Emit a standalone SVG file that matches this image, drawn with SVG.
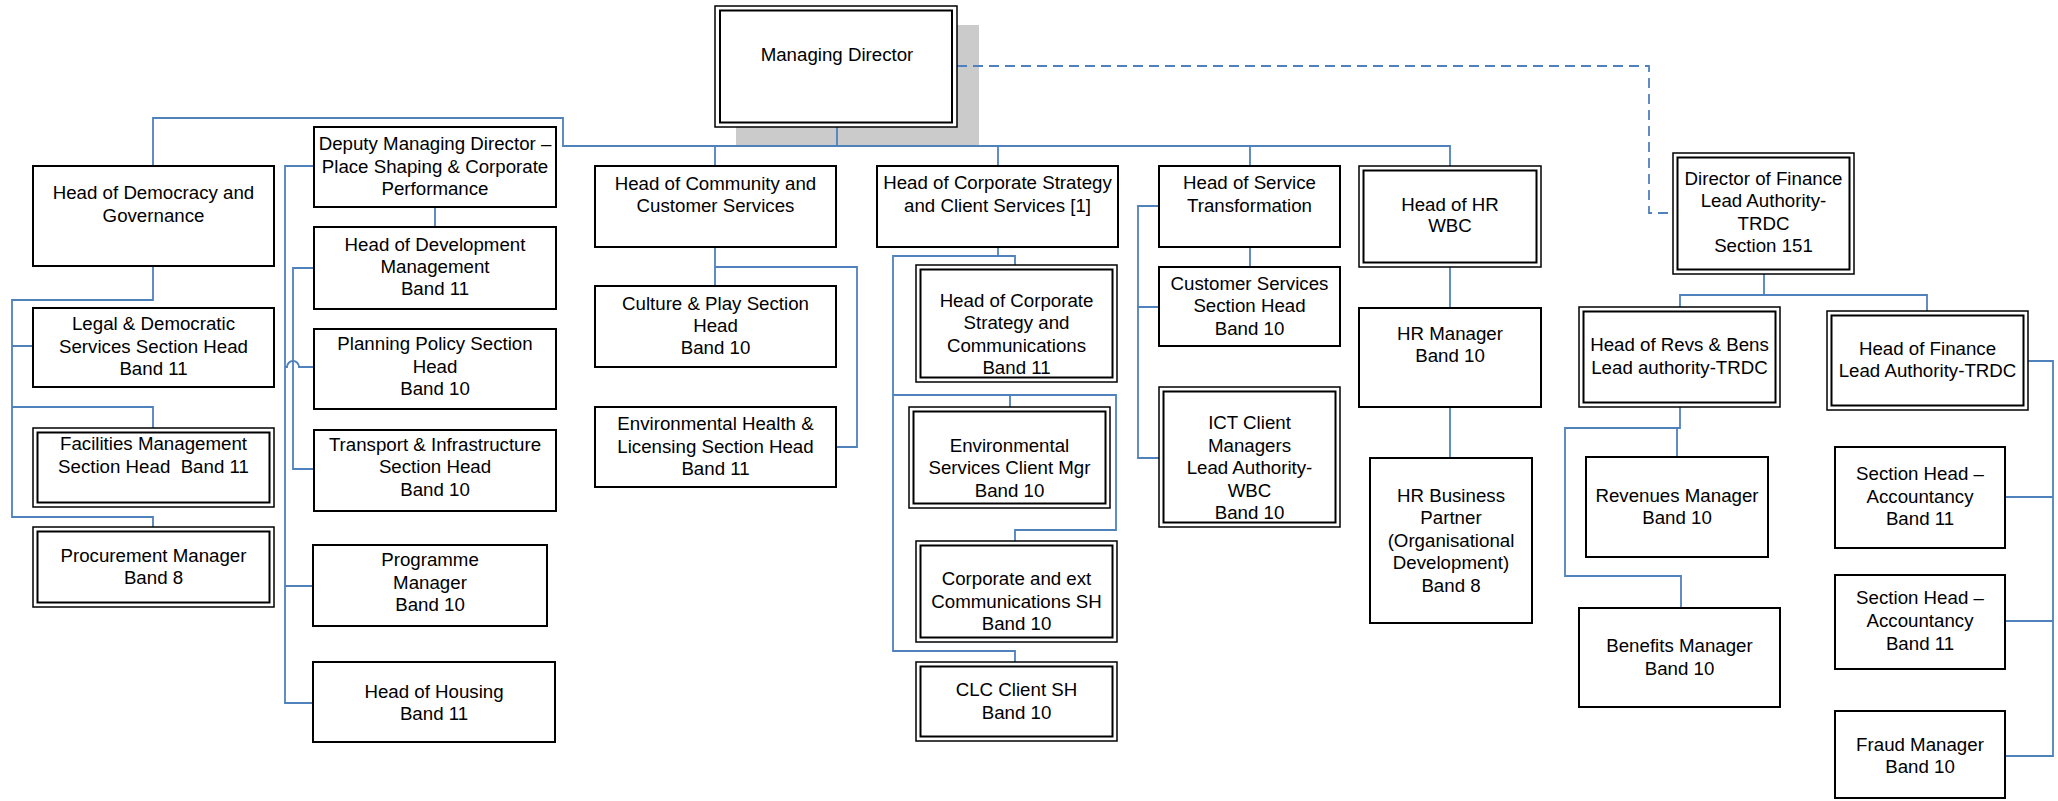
<svg xmlns="http://www.w3.org/2000/svg" width="2058" height="801" viewBox="0 0 2058 801">
<style>
.box{fill:#fff;stroke:#000;stroke-width:2}
.bo{fill:#fff;stroke:#000;stroke-width:1.5}
.bi{fill:none;stroke:#000;stroke-width:2}
.t{font-family:"Liberation Sans",Arial,sans-serif;font-size:18.7px;text-anchor:middle;fill:#000}
.c{fill:none;stroke:#4f81bd;stroke-width:1.8}
.d{fill:none;stroke:#4f81bd;stroke-width:1.8;stroke-dasharray:10 6}
</style>
<rect width="2058" height="801" fill="#fff"/>
<rect id="md-shadow" x="736" y="25" width="243" height="121" fill="#cbcbcb"/>
<g id="connectors">
<path class="c" d="M153,166V118H563V146H1450V166"/>
<path class="c" d="M837,127V146M715,146V166M998,146V166M1250,146V166"/>
<path class="c" d="M153,266V300H12V517H153V527M12,346H33M12,407H153V428"/>
<path class="c" d="M314,166H285V703H313M285,586H313M285,367H287A6,6 0 0 1 299,367H314"/>
<path class="c" d="M435,207V227M314,268H293V469H314"/>
<path class="c" d="M715,247V286M715,267H857V447H836"/>
<path class="c" d="M998,247V256H1015V265M998,256H893V651H1015V662M893,395H1116V530H1015V541M1010,395V407"/>
<path class="c" d="M1250,247V267M1159,206H1138V458H1159M1138,307H1159"/>
<path class="c" d="M1450,267V308M1450,407V458"/>
<path class="d" d="M957,66H1649V213H1673"/>
<path class="c" d="M1764,274V295M1680,307V295H1927V311M1680,407V428H1565V576H1681V608M1677,428V457"/>
<path class="c" d="M2028,361H2053V756H2005M2053,497H2005M2053,621H2005"/>
</g>
<g id="managing-director">
<rect class="bo" x="715" y="6" width="242" height="121"/>
<rect class="bi" x="720" y="10.5" width="232" height="112"/>
<text class="t" x="837"><tspan x="837" y="61">Managing Director</tspan></text>
</g>
<g id="head-democracy">
<rect class="box" x="33" y="166" width="241" height="100"/>
<text class="t"><tspan x="153.5" y="199">Head of Democracy and</tspan><tspan x="153.5" y="221.5">Governance</tspan></text>
</g>
<g id="legal">
<rect class="box" x="33" y="308" width="241" height="79"/>
<text class="t"><tspan x="153.5" y="330">Legal &amp; Democratic</tspan><tspan x="153.5" y="353">Services Section Head</tspan><tspan x="153.5" y="375">Band 11</tspan></text>
</g>
<g id="facilities">
<rect class="bo" x="33" y="428" width="241" height="79"/>
<rect class="bi" x="37.5" y="432.5" width="232" height="70"/>
<text class="t"><tspan x="153.5" y="450">Facilities Management</tspan><tspan x="153.5" y="472.5">Section Head&#160; Band 11</tspan></text>
</g>
<g id="procurement">
<rect class="bo" x="33" y="527" width="241" height="80"/>
<rect class="bi" x="37.5" y="531.5" width="232" height="71"/>
<text class="t"><tspan x="153.5" y="561.5">Procurement Manager</tspan><tspan x="153.5" y="584">Band 8</tspan></text>
</g>
<g id="deputy-md">
<rect class="box" x="314" y="127" width="242" height="80"/>
<text class="t"><tspan x="435" y="150">Deputy Managing Director –</tspan><tspan x="435" y="172.5">Place Shaping &amp; Corporate</tspan><tspan x="435" y="195">Performance</tspan></text>
</g>
<g id="head-dev">
<rect class="box" x="314" y="227" width="242" height="82"/>
<text class="t"><tspan x="435" y="250.5">Head of Development</tspan><tspan x="435" y="273">Management</tspan><tspan x="435" y="295">Band 11</tspan></text>
</g>
<g id="planning-policy">
<rect class="box" x="314" y="329" width="242" height="80"/>
<text class="t"><tspan x="435" y="350">Planning Policy Section</tspan><tspan x="435" y="373">Head</tspan><tspan x="435" y="395">Band 10</tspan></text>
</g>
<g id="transport">
<rect class="box" x="314" y="430" width="242" height="81"/>
<text class="t"><tspan x="435" y="450.5">Transport &amp; Infrastructure</tspan><tspan x="435" y="472.5">Section Head</tspan><tspan x="435" y="495.5">Band 10</tspan></text>
</g>
<g id="programme-manager">
<rect class="box" x="313" y="545" width="234" height="81"/>
<text class="t"><tspan x="430" y="566">Programme</tspan><tspan x="430" y="588.5">Manager</tspan><tspan x="430" y="611">Band 10</tspan></text>
</g>
<g id="head-housing">
<rect class="box" x="313" y="662" width="242" height="80"/>
<text class="t"><tspan x="434" y="698">Head of Housing</tspan><tspan x="434" y="720">Band 11</tspan></text>
</g>
<g id="head-community">
<rect class="box" x="595" y="166" width="241" height="81"/>
<text class="t"><tspan x="715.5" y="190">Head of Community and</tspan><tspan x="715.5" y="212">Customer Services</tspan></text>
</g>
<g id="culture">
<rect class="box" x="595" y="286" width="241" height="81"/>
<text class="t"><tspan x="715.5" y="310">Culture &amp; Play Section</tspan><tspan x="715.5" y="332">Head</tspan><tspan x="715.5" y="354">Band 10</tspan></text>
</g>
<g id="env-health">
<rect class="box" x="595" y="407" width="241" height="80"/>
<text class="t"><tspan x="715.5" y="430">Environmental Health &amp;</tspan><tspan x="715.5" y="452.5">Licensing Section Head</tspan><tspan x="715.5" y="475">Band 11</tspan></text>
</g>
<g id="head-corp-strategy">
<rect class="box" x="877" y="166" width="241" height="81"/>
<text class="t"><tspan x="997.5" y="189">Head of Corporate Strategy</tspan><tspan x="997.5" y="212">and Client Services [1]</tspan></text>
</g>
<g id="head-corp-comms">
<rect class="bo" x="916" y="265" width="201" height="117"/>
<rect class="bi" x="920.5" y="269.5" width="192" height="108"/>
<text class="t"><tspan x="1016.5" y="306.5">Head of Corporate</tspan><tspan x="1016.5" y="329">Strategy and</tspan><tspan x="1016.5" y="351.5">Communications</tspan><tspan x="1016.5" y="373.5">Band 11</tspan></text>
</g>
<g id="env-services">
<rect class="bo" x="909" y="407" width="201" height="101"/>
<rect class="bi" x="913.5" y="411.5" width="192" height="92"/>
<text class="t"><tspan x="1009.5" y="451.5">Environmental</tspan><tspan x="1009.5" y="474">Services Client Mgr</tspan><tspan x="1009.5" y="496.5">Band 10</tspan></text>
</g>
<g id="corp-ext-comms">
<rect class="bo" x="916" y="541" width="201" height="101"/>
<rect class="bi" x="920.5" y="545.5" width="192" height="92"/>
<text class="t"><tspan x="1016.5" y="585">Corporate and ext</tspan><tspan x="1016.5" y="607.5">Communications SH</tspan><tspan x="1016.5" y="630">Band 10</tspan></text>
</g>
<g id="clc-client">
<rect class="bo" x="916" y="662" width="201" height="79"/>
<rect class="bi" x="920.5" y="666.5" width="192" height="70"/>
<text class="t"><tspan x="1016.5" y="696">CLC Client SH</tspan><tspan x="1016.5" y="718.5">Band 10</tspan></text>
</g>
<g id="head-service-transformation">
<rect class="box" x="1159" y="166" width="181" height="81"/>
<text class="t"><tspan x="1249.5" y="189">Head of Service</tspan><tspan x="1249.5" y="212">Transformation</tspan></text>
</g>
<g id="customer-services">
<rect class="box" x="1159" y="267" width="181" height="79"/>
<text class="t"><tspan x="1249.5" y="289.5">Customer Services</tspan><tspan x="1249.5" y="311.5">Section Head</tspan><tspan x="1249.5" y="334.5">Band 10</tspan></text>
</g>
<g id="ict-client">
<rect class="bo" x="1159" y="387" width="181" height="140"/>
<rect class="bi" x="1163.5" y="391.5" width="172" height="131"/>
<text class="t"><tspan x="1249.5" y="429">ICT Client</tspan><tspan x="1249.5" y="451.5">Managers</tspan><tspan x="1249.5" y="474">Lead Authority-</tspan><tspan x="1249.5" y="496.5">WBC</tspan><tspan x="1249.5" y="519">Band 10</tspan></text>
</g>
<g id="head-hr">
<rect class="bo" x="1359" y="166" width="182" height="101"/>
<rect class="bi" x="1363.5" y="170.5" width="173" height="92"/>
<text class="t"><tspan x="1450" y="211">Head of HR</tspan><tspan x="1450" y="231.5">WBC</tspan></text>
</g>
<g id="hr-manager">
<rect class="box" x="1359" y="308" width="182" height="99"/>
<text class="t"><tspan x="1450" y="340">HR Manager</tspan><tspan x="1450" y="362">Band 10</tspan></text>
</g>
<g id="hr-business-partner">
<rect class="box" x="1370" y="458" width="162" height="165"/>
<text class="t"><tspan x="1451" y="501.5">HR Business</tspan><tspan x="1451" y="524">Partner</tspan><tspan x="1451" y="546.5">(Organisational</tspan><tspan x="1451" y="569">Development)</tspan><tspan x="1451" y="591.5">Band 8</tspan></text>
</g>
<g id="director-finance">
<rect class="bo" x="1673" y="153" width="181" height="121"/>
<rect class="bi" x="1677.5" y="157.5" width="172" height="112"/>
<text class="t"><tspan x="1763.5" y="184.5">Director of Finance</tspan><tspan x="1763.5" y="207">Lead Authority-</tspan><tspan x="1763.5" y="229.5">TRDC</tspan><tspan x="1763.5" y="252">Section 151</tspan></text>
</g>
<g id="head-revs-bens">
<rect class="bo" x="1579" y="307" width="201" height="100"/>
<rect class="bi" x="1583.5" y="311.5" width="192" height="91"/>
<text class="t"><tspan x="1679.5" y="351">Head of Revs &amp; Bens</tspan><tspan x="1679.5" y="373.5">Lead authority-TRDC</tspan></text>
</g>
<g id="head-finance">
<rect class="bo" x="1827" y="311" width="201" height="99"/>
<rect class="bi" x="1831.5" y="315.5" width="192" height="90"/>
<text class="t"><tspan x="1927.5" y="355">Head of Finance</tspan><tspan x="1927.5" y="377">Lead Authority-TRDC</tspan></text>
</g>
<g id="revenues-manager">
<rect class="box" x="1586" y="457" width="182" height="100"/>
<text class="t"><tspan x="1677" y="502">Revenues Manager</tspan><tspan x="1677" y="524">Band 10</tspan></text>
</g>
<g id="benefits-manager">
<rect class="box" x="1579" y="608" width="201" height="99"/>
<text class="t"><tspan x="1679.5" y="652">Benefits Manager</tspan><tspan x="1679.5" y="674.5">Band 10</tspan></text>
</g>
<g id="section-head-accountancy-1">
<rect class="box" x="1835" y="447" width="170" height="101"/>
<text class="t"><tspan x="1920" y="480">Section Head –</tspan><tspan x="1920" y="502.5">Accountancy</tspan><tspan x="1920" y="525">Band 11</tspan></text>
</g>
<g id="section-head-accountancy-2">
<rect class="box" x="1835" y="575" width="170" height="94"/>
<text class="t"><tspan x="1920" y="603.5">Section Head –</tspan><tspan x="1920" y="627">Accountancy</tspan><tspan x="1920" y="649.5">Band 11</tspan></text>
</g>
<g id="fraud-manager">
<rect class="box" x="1835" y="711" width="170" height="87"/>
<text class="t"><tspan x="1920" y="751">Fraud Manager</tspan><tspan x="1920" y="773">Band 10</tspan></text>
</g>
</svg>
